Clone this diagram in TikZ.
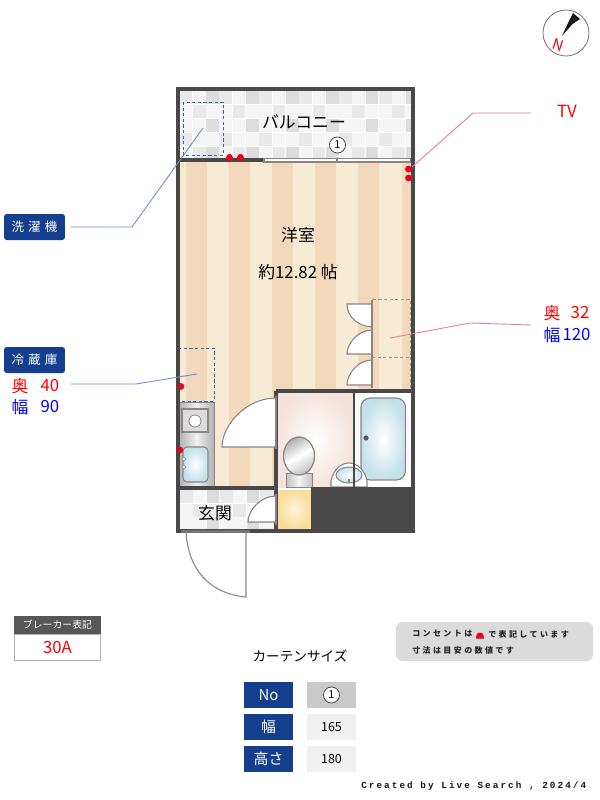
\documentclass[tikz,border=0pt]{standalone}
\usepackage{fontspec}
\setmainfont{Noto Sans CJK JP}
\newfontfamily\trackedjp[LetterSpace=30]{Noto Sans CJK JP}
\newfontfamily\trackedla[LetterSpace=22]{Liberation Mono}
\definecolor{wallc}{HTML}{484848}
\definecolor{navy}{HTML}{143F8E}
\definecolor{stripea}{HTML}{F7EBD5}
\definecolor{stripeb}{HTML}{F2D9BC}
\definecolor{edgec}{HTML}{8A8484}
\definecolor{bluel}{HTML}{6F8FC8}
\definecolor{pinkl}{HTML}{E87A92}
\definecolor{dashb}{HTML}{3566AE}
\definecolor{tub}{HTML}{C4E1EA}
\definecolor{redm}{HTML}{F00018}
\definecolor{pinkroom}{HTML}{F5E2DC}
\definecolor{yel}{HTML}{F9DE9A}
\definecolor{yelc}{HTML}{FDF3D8}
\definecolor{tilea}{HTML}{F5F5F5}
\definecolor{tileb}{HTML}{E9E9EB}
\definecolor{tilec}{HTML}{DDDDDD}
\newcommand{\fa}{\fontsize{12.6}{15}\selectfont}
\newcommand{\fb}{\fontsize{11.2}{14}\selectfont}
\newcommand{\fbb}{\fontsize{10.2}{13}\selectfont}
\newcommand{\fc}{\fontsize{9.4}{12}\selectfont}
\newcommand{\fd}{\fontsize{8.2}{10}\selectfont}
\newcommand{\fe}{\fontsize{7.4}{9}\selectfont}
\newcommand{\dooropen}[4]{% hinge x, arc-y at hinge, free x, line y
  \path[doorleaf] (#1,#2) .. controls ({#3+(#1-#3)*0.45},#2) and (#3,{#2+(#4-#2)*0.55}) .. (#3,#4) -- (#1,#4) -- cycle;}
\tikzset{
  wall/.style={draw=wallc,line width=2.5pt},
  doorleaf/.style={draw=edgec,fill=white,line width=0.8pt},
  stile/.style={draw=edgec,line width=2pt},
  dashbox/.style={draw=dashb,line width=0.65pt,dash pattern=on 2.4pt off 1.8pt},
  closetbox/.style={draw=edgec!85,line width=0.65pt,dash pattern=on 2.4pt off 1.8pt},
  navybox/.style={fill=navy,rounded corners=2pt,minimum width=45.7pt,minimum height=19.5pt,inner sep=0pt,text=white,font=\fc},
  cellhead/.style={fill=navy,minimum width=36.5pt,minimum height=19.5pt,inner sep=0pt,text=white,font=\fb},
  cellval/.style={fill=black!6,minimum width=36.5pt,minimum height=19.5pt,inner sep=0pt,text=black,font=\fc},
  redtxt/.style={text=red,font=\fa,inner sep=0pt},
  bluetxt/.style={text=blue,font=\fa,inner sep=0pt},
  outlet/.style={fill=redm,draw=none},
  leadb/.style={draw=bluel,line width=0.65pt},
  leadp/.style={draw=pinkl,line width=0.65pt},
  plain/.style={inner sep=0pt,text=black},
  numcircle/.style={circle,draw=black!70,fill=white,line width=0.6pt,minimum size=12pt,inner sep=0pt,font=\fd},
  metal/.style={draw=edgec,line width=0.6pt},
  notetxt/.style={inner sep=0pt,anchor=west,text=black!85,font=\trackedjp\bfseries\fontsize{6}{7}\selectfont},
}
\begin{document}
\begin{tikzpicture}[x=0.75pt,y=-0.75pt]
\path[use as bounding box,fill=white] (0,0) rectangle (600,800);

% balcony tiles
\fill[white] (179,90) rectangle (412,160);
\begin{scope}
\clip (179,90) rectangle (412,160);
\foreach \i in {0,...,17}{\foreach \j in {0,...,4}{
  \pgfmathtruncatemacro{\a}{mod(\i,3)==2 && mod(\j,2)==0 ? 1 : 0}
  \pgfmathtruncatemacro{\b}{mod(\i+2*\j,3)==0 ? 1 : 0}
  \ifnum\a=1 \def\tc{tilec}\else\ifnum\b=1 \def\tc{tileb}\else\def\tc{tilea}\fi\fi
  \fill[\tc] ({179.5+\i*13.3},{91+\j*14}) rectangle ({192.2+\i*13.3},{104.4+\j*14});
}}
\end{scope}

% room floor
\fill[stripea] (179,160) rectangle (412,488);
\foreach \sx in {186,229,272,315,358,402}{\fill[stripeb] (\sx,160) rectangle ({min(\sx+21,411)},488);}

% entrance tiles
\fill[white] (179,489) rectangle (277,530);
\begin{scope}
\clip (179,489) rectangle (277,530);
\foreach \i in {0,...,7}{\foreach \j in {0,...,2}{
  \pgfmathtruncatemacro{\a}{mod(\i,3)==2 && mod(\j,2)==0 ? 1 : 0}
  \pgfmathtruncatemacro{\b}{mod(\i+2*\j,3)==0 ? 1 : 0}
  \ifnum\a=1 \def\tc{tilec}\else\ifnum\b=1 \def\tc{tileb}\else\def\tc{tilea}\fi\fi
  \fill[\tc] ({180+\i*13.3},{490+\j*13.5}) rectangle ({192.7+\i*13.3},{503+\j*13.5});
}}
\end{scope}

% kitchen
\shade[metal,left color=black!30,right color=black!30,middle color=black!6] (179,402) rectangle (214,487);
\draw[metal,fill=black!14,line width=0.8pt] (182,409) rectangle (208,432);
\draw[metal,fill=white] (195,421) circle [radius=6];
\shade[draw=edgec,line width=0.8pt,rounded corners=3pt,inner color=white,outer color=tub] (183,447) rectangle (208,482);
\draw[edgec,fill=white,line width=0.4pt] (184,459) circle [radius=1.8];
\draw[edgec,fill=white,line width=0.4pt] (184,467) circle [radius=1.8];

% toilet room and bath
\shade[inner color=white,outer color=pinkroom] (277,392) rectangle (353,487);
\fill[white] (354,392) rectangle (411,487);
\shade[draw=edgec,line width=0.9pt,rounded corners=7pt,inner color=white,outer color=tub] (361,398) rectangle (405.5,480);
\fill[wallc!90] (366,438) circle [radius=2.6];
% toilet
\shade[metal,left color=black!24,right color=black!24,middle color=black!4] (286,473) rectangle (312,487);
\shade[draw=edgec,line width=0.9pt,left color=black!30,right color=black!24,middle color=white,shading angle=30] (299,456) ellipse [x radius=15.5,y radius=19];
% wash basin
\path[doorleaf] (331,487) -- (331,481) .. controls (333,470) and (341,463) .. (349,463) .. controls (357,463) and (365,470) .. (367,481) -- (367,487) -- cycle;
\shade[draw=edgec,line width=0.8pt,inner color=white,outer color=tub] (349,475) ellipse [x radius=13,y radius=8];
\draw[edgec,line width=0.8pt] (349,479) -- (349,483);
% yellow cupboard
\shade[inner color=yelc,outer color=yel] (278,490) rectangle (311,529);
% dark block
\fill[wallc] (311,487) rectangle (413,531);

% dashed boxes
\draw[dashbox] (183,102) rectangle (223,155);
\draw[dashbox] (179,348) rectangle (214,401);
\draw[closetbox] (372,299) rectangle (410,389);
\draw[closetbox] (372,357) -- (410,357);

% walls
\draw[wall] (178,89) rectangle (413,531);
\draw[wall] (178,160) -- (264,160);
\draw[wall] (276,391) -- (413,391);
\draw[wall] (276,391) -- (276,531);
\draw[wall] (178,488) -- (277,488);
\draw[draw=wallc,line width=1.5pt] (353.5,391) -- (353.5,488);

% doors
\path[doorleaf] (372,327) .. controls (358,326) and (347,317) .. (347,304) -- (372,304) -- cycle;
\dooropen{372}{330}{347}{354}
\dooropen{372}{360}{347}{385}
\draw[stile] (372,300) -- (372,388);
\dooropen{276}{398}{222}{447}
\draw[stile] (276,396) -- (276,449);
\dooropen{276}{496}{248}{522}
\draw[stile] (276,494) -- (276,525);
% entrance door
\path[doorleaf] (246,597) .. controls (212,594) and (188,572) .. (186,531) -- (246,531) -- cycle;
\fill[black!55] (181,530) rectangle (250,532.5);

% window
\draw[edgec,fill=white,line width=0.8pt] (264,158.5) rectangle (337,162);
\draw[edgec,fill=white,line width=0.8pt] (337,158.5) rectangle (410.5,162);

% outlets
\fill[outlet] (229.5,157.5) ellipse [x radius=3.4,y radius=3.6];
\fill[outlet] (240.5,157.5) ellipse [x radius=3.4,y radius=3.6];
\fill[outlet] (408.5,169) ellipse [x radius=3.4,y radius=3.4];
\fill[outlet] (408.5,178) ellipse [x radius=3.4,y radius=3.4];
\fill[outlet] (181,386.5) ellipse [x radius=3.2,y radius=3.4];
\fill[outlet] (180,450) ellipse [x radius=3.2,y radius=3.4];

% room labels
\node[plain,font=\fa] (balcony) at (304,122) {バルコニー};
\node[numcircle] (curtain1) at (337.5,145) {1};
\node[plain,font=\fa] (room) at (298,235) {洋室};
\node[plain,font=\fa] (roomsize) at (298,272) {約12.82 帖};
\node[plain,font=\fa] (genkan) at (215,513) {玄関};

% compass
\draw[black!55,line width=0.6pt] (566,33) circle [radius=23];
\fill[black!90] (573,13) -- (580,19) -- (572.5,24) -- (562,36) -- (568,23) -- cycle;
\node[inner sep=0pt,text=redm,font=\fb\itshape,rotate=-18] (north) at (558,45) {N};

% left labels
\node[navybox] (washer) at (34.5,227) {洗\,\,濯\,\,機};
\node[navybox] (fridge) at (34.5,360) {冷\,\,蔵\,\,庫};
\node[redtxt] (fd1) at (20,386) {奥};
\node[redtxt] (fd2) at (50,386) {40};
\node[bluetxt] (fw1) at (20,407) {幅};
\node[bluetxt] (fw2) at (50,407) {90};

% right labels
\node[inner sep=0pt,text=red,font=\fa] (tv) at (567,111) {TV};
\node[redtxt] (cd1) at (552,313) {奥};
\node[redtxt] (cd2) at (580,313) {32};
\node[bluetxt] (cw1) at (552,335) {幅};
\node[bluetxt] (cw2) at (576.5,335) {120};

% leaders
\coordinate (a1) at (71,227); \coordinate (a2) at (132,227); \coordinate (a3) at (203,128);
\draw[leadb] (a1) -- (a2) -- (a3);
\coordinate (b1) at (71,384); \coordinate (b2) at (136,384); \coordinate (b3) at (197,374);
\draw[leadb] (b1) -- (b2) -- (b3);
\coordinate (c1) at (531,113); \coordinate (c2) at (473,113); \coordinate (c3) at (412,167);
\draw[leadp] (c1) -- (c2) -- (c3);
\coordinate (d1) at (531,325); \coordinate (d2) at (470,323); \coordinate (d3) at (390,338);
\draw[leadp] (d1) -- (d2) -- (d3);

% breaker
\node[fill=black!66,minimum width=65.25pt,minimum height=13.5pt,inner sep=0pt,text=white,font=\fe] (breakhead) at (57.5,625) {ブレーカー表記};
\node[draw=black!30,fill=white,line width=0.9pt,minimum width=64.5pt,minimum height=20pt,inner sep=0pt,text=red,font=\fa] (breakval) at (57.5,647.5) {30A};

% note
\node[fill=black!14,rounded corners=5pt,minimum width=147.75pt,minimum height=29.25pt,inner sep=0pt] (notebox) at (494.5,641.5) {};
\node[notetxt] (n1) at (412,634) {コンセントは};
\fill[redm] (476,638.5) -- (476,637) .. controls (476,634) and (478,632.5) .. (480,632.5) .. controls (482,632.5) and (484,634) .. (484,637) -- (484,638.5) -- cycle;
\node[notetxt] (n2) at (488,634) {で表記しています};
\node[notetxt] (n3) at (412,650) {寸法は目安の数値です};

% curtain table
\node[plain,font=\fbb] (ctitle) at (300,656) {カーテンサイズ};
\node[cellhead] (h1) at (268.5,695) {No};
\node[cellhead] (h2) at (268.5,727) {幅};
\node[cellhead] (h3) at (268.5,759) {高さ};
\node[cellval,fill=black!21] (v1) at (331.5,695) {};
\node[numcircle] (v1c) at (331.5,695) {1};
\node[cellval] (v2) at (331.5,727) {165};
\node[cellval] (v3) at (331.5,759) {180};

% credit
\node[inner sep=0pt,anchor=west,text=black!90,font=\trackedla\bfseries\fontsize{7}{8}\selectfont] (credit) at (361,786) {Created by Live Search , 2024/4};
\end{tikzpicture}
\end{document}
